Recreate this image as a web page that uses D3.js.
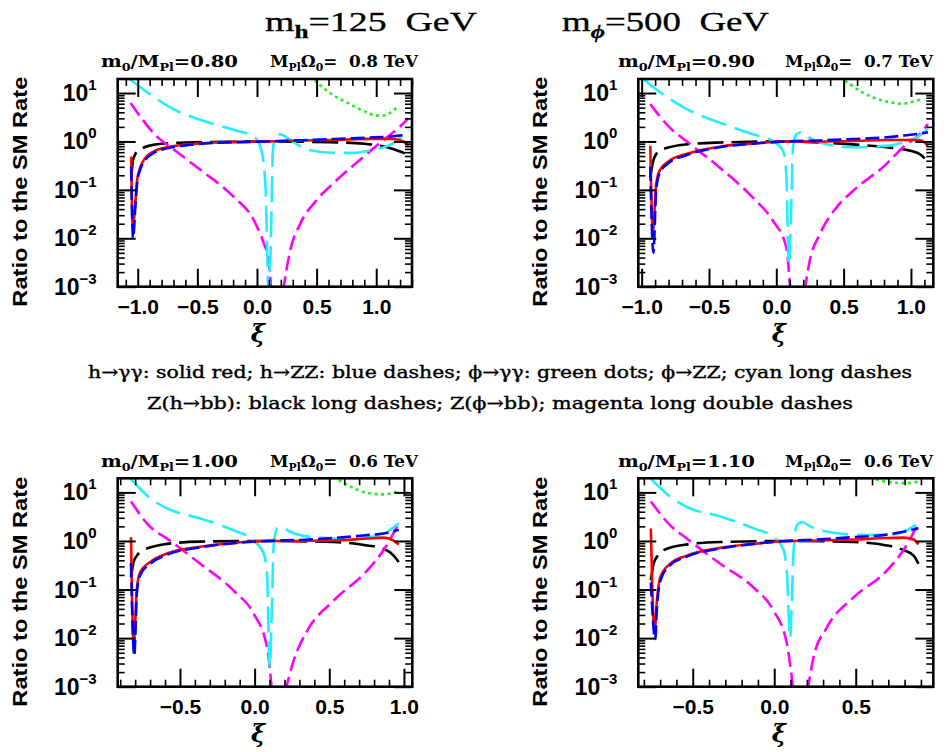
<!DOCTYPE html>
<html><head><meta charset="utf-8">
<script src="https://cdn.jsdelivr.net/npm/d3@7"></script>
<style>body{margin:0;background:#fff}svg{display:block}text{white-space:pre}</style>
</head><body>
<svg id="c" width="948" height="752"></svg>
<script>
// ---------------- data ----------------
const massRatio = ["0.80", "0.90", "1.00", "1.10"];
const scaleTeV = ["0.8", "0.7", "0.6", "0.6"];
const xMajorTicks = [[-1.0, -0.5, 0.0, 0.5, 1.0], [-1.0, -0.5, 0.0, 0.5, 1.0], [-0.5, 0.0, 0.5, 1.0], [-0.5, 0.0, 0.5]];
const yMajorTicks = [10, 1, 0.1, 0.01, 0.001];
const yTickExps = ["1", "0", "\u22121", "\u22122", "\u22123"];
const legendLines = [
  "h\u2192\u03b3\u03b3: solid red; h\u2192ZZ: blue dashes; \u03d5\u2192\u03b3\u03b3: green dots; \u03d5\u2192ZZ; cyan long dashes",
  "Z(h\u2192bb): black long dashes; Z(\u03d5\u2192bb); magenta long double dashes"
];

// panel 1 : m0/MPl = 0.80
const p1Red = [[-1.055,0.49],[-1.042,0.016],[-1.020,0.054],[-1.005,0.16],[-0.977,0.30],[-0.935,0.46],[-0.866,0.62],[-0.754,0.76],[-0.615,0.85],[-0.363,0.95],[0.084,1.0],[0.363,1.05],[0.642,1.07],[0.921,1.13],[1.144,1.12],[1.228,1.0],[1.27,0.8]];
const p1Blue = [[-1.055,0.3],[-1.039,0.01],[-1.020,0.045],[-1.005,0.14],[-0.977,0.27],[-0.935,0.42],[-0.866,0.58],[-0.754,0.72],[-0.615,0.82],[-0.363,0.93],[0.084,1.0],[0.363,1.06],[0.642,1.12],[0.921,1.2],[1.144,1.28],[1.24,1.36]];
const p1Black = [[-1.055,0.18],[-1.04,0.4],[-1.02,0.55],[-1.0,0.65],[-0.95,0.75],[-0.9,0.82],[-0.8,0.9],[-0.6,0.95],[-0.3,0.98],[0.0,1.0],[0.3,0.99],[0.6,0.97],[0.9,0.9],[1.0,0.84],[1.1,0.75],[1.2,0.62],[1.27,0.53]];
const p1Cyan = [[-1.067,19.5],[-0.894,9.3],[-0.698,4.6],[-0.475,2.8],[-0.196,1.74],[-0.028,1.26],[0.028,0.79],[0.070,0.14],[0.098,0.0008],[0.117,0.01],[0.134,0.68],[0.160,1.35],[0.193,1.4],[0.280,1.07],[0.420,0.68],[0.642,0.58],[0.810,0.58],[0.977,0.68],[1.144,0.93],[1.27,1.74]];
const p1Magenta = [[-1.06,6.2],[-0.838,1.26],[-0.698,0.68],[-0.475,0.26],[-0.196,0.072],[-0.028,0.024],[0.056,0.008],[0.098,0.0035],[0.12,0.0008],[0.17,null],[0.218,0.0008],[0.280,0.0058],[0.363,0.020],[0.502,0.062],[0.642,0.138],[0.865,0.42],[1.061,1.07],[1.2,2.04],[1.27,3.0]];
const p1Green = [[0.455,24],[0.474,20],[0.55,13.2],[0.614,10],[0.70,7.4],[0.781,5.9],[0.85,4.8],[0.92,4.0],[0.98,3.5],[1.05,3.4],[1.10,3.7],[1.17,4.9]];

// panel 2 : m0/MPl = 0.90
const p2Red = [[-0.936,0.81],[-0.917,0.014],[-0.892,0.13],[-0.867,0.25],[-0.793,0.40],[-0.669,0.55],[-0.421,0.78],[-0.174,0.91],[0.074,1.0],[0.322,1.0],[0.569,1.02],[0.817,1.07],[1.065,1.07],[1.126,0.81]];
const p2Blue = [[-0.936,0.3],[-0.913,0.005],[-0.892,0.1],[-0.867,0.22],[-0.793,0.37],[-0.669,0.52],[-0.421,0.76],[-0.174,0.9],[0.074,1.0],[0.322,1.05],[0.569,1.12],[0.817,1.22],[0.941,1.32],[1.065,1.45],[1.126,1.55]];
const p2Black = [[-0.936,0.18],[-0.917,0.37],[-0.892,0.55],[-0.842,0.69],[-0.669,0.87],[-0.421,0.95],[0.074,1.0],[0.569,0.87],[0.817,0.76],[0.941,0.69],[1.065,0.55],[1.126,0.37]];
const p2Cyan = [[-0.99,20],[-0.936,14.8],[-0.793,7.6],[-0.669,4.7],[-0.421,2.45],[-0.174,1.41],[-0.025,1.02],[0.049,0.65],[0.074,0.21],[0.094,0.0028],[0.111,0.043],[0.124,0.76],[0.149,1.41],[0.186,1.55],[0.247,1.2],[0.322,0.95],[0.569,0.76],[0.817,0.81],[0.941,0.95],[1.065,1.32],[1.126,1.82]];
const p2Magenta = [[-0.936,5.9],[-0.793,1.95],[-0.669,1.02],[-0.421,0.29],[-0.174,0.069],[-0.025,0.023],[0.074,0.0065],[0.104,0.0008],[0.16,null],[0.210,0.0008],[0.248,0.0034],[0.322,0.012],[0.446,0.043],[0.569,0.095],[0.817,0.34],[0.941,0.76],[1.065,1.41],[1.126,2.3]];
const p2Green = [[0.48,23],[0.495,20],[0.55,15.1],[0.6,12.0],[0.65,10],[0.72,8.1],[0.8,6.9],[0.88,6.2],[0.94,6.0],[1.0,6.5],[1.09,7.6]];

// panel 3 : m0/MPl = 1.00
const p3Red = [[-0.828,1.2],[-0.810,0.0076],[-0.788,0.11],[-0.766,0.23],[-0.699,0.37],[-0.587,0.55],[-0.364,0.76],[-0.141,0.91],[0.083,1.0],[0.306,1.0],[0.529,1.02],[0.753,1.12],[0.864,1.17],[0.931,1.02],[0.965,0.85]];
const p3Blue = [[-0.828,0.35],[-0.806,0.0043],[-0.788,0.09],[-0.766,0.2],[-0.699,0.34],[-0.587,0.52],[-0.364,0.74],[-0.141,0.9],[0.083,1.0],[0.306,1.05],[0.529,1.15],[0.753,1.32],[0.864,1.42],[0.965,1.7]];
const p3Black = [[-0.828,0.18],[-0.810,0.37],[-0.788,0.5],[-0.743,0.65],[-0.587,0.87],[-0.364,0.97],[0.083,1.0],[0.529,0.95],[0.753,0.81],[0.864,0.69],[0.931,0.5],[0.965,0.37]];
const p3Cyan = [[-0.83,19],[-0.699,7.6],[-0.587,4.7],[-0.364,2.9],[-0.141,1.66],[-0.007,1.02],[0.061,0.55],[0.083,0.21],[0.101,0.0025],[0.116,0.043],[0.127,0.76],[0.150,1.82],[0.172,1.95],[0.239,1.55],[0.306,1.32],[0.529,1.12],[0.641,1.07],[0.753,1.17],[0.864,1.41],[0.965,2.3]];
const p3Magenta = [[-0.828,6.5],[-0.699,1.95],[-0.587,1.12],[-0.364,0.34],[-0.141,0.095],[-0.007,0.032],[0.083,0.0065],[0.116,0.0008],[0.16,null],[0.205,0.0008],[0.261,0.0034],[0.351,0.014],[0.529,0.059],[0.753,0.245],[0.864,0.65],[0.965,2.3]];
const p3Green = [[0.535,23],[0.551,20],[0.641,13.2],[0.753,9.8],[0.864,9.1],[0.965,10.7]];

// panel 4 : m0/MPl = 1.10
const p4Red = [[-0.757,1.8],[-0.734,0.013],[-0.720,0.059],[-0.699,0.18],[-0.638,0.34],[-0.536,0.50],[-0.331,0.72],[-0.127,0.87],[0.078,1.0],[0.282,1.02],[0.487,1.07],[0.691,1.15],[0.793,1.17],[0.855,1.07],[0.885,0.85]];
const p4Blue = [[-0.757,0.14],[-0.730,0.0095],[-0.720,0.04],[-0.699,0.15],[-0.638,0.32],[-0.536,0.48],[-0.331,0.7],[-0.127,0.87],[0.078,1.0],[0.282,1.08],[0.487,1.2],[0.691,1.35],[0.793,1.55],[0.885,1.82]];
const p4Black = [[-0.757,0.155],[-0.740,0.34],[-0.720,0.47],[-0.679,0.65],[-0.536,0.85],[-0.331,0.95],[0.078,1.0],[0.487,0.95],[0.691,0.81],[0.793,0.65],[0.855,0.5],[0.885,0.34]];
const p4Cyan = [[-0.757,19],[-0.638,8.1],[-0.536,5.0],[-0.331,3.2],[-0.127,1.82],[-0.004,1.2],[0.057,0.65],[0.078,0.21],[0.098,0.01],[0.108,0.059],[0.118,0.55],[0.139,2.1],[0.170,2.45],[0.221,2.0],[0.282,1.66],[0.487,1.35],[0.691,1.32],[0.793,1.55],[0.885,2.3]];
const p4Magenta = [[-0.757,6.5],[-0.638,2.1],[-0.536,1.12],[-0.331,0.34],[-0.127,0.11],[-0.004,0.037],[0.078,0.0076],[0.118,0.0008],[0.16,null],[0.204,0.0008],[0.241,0.004],[0.323,0.0166],[0.487,0.069],[0.691,0.245],[0.793,0.65],[0.885,2.3]];
const p4Green = [[0.595,23],[0.609,20],[0.691,16.6],[0.793,15.5],[0.885,16.6]];

// ---------------- layout / style ----------------
const panels = [
  {black:p1Black, magenta:p1Magenta, cyan:p1Cyan, green:p1Green, red:p1Red, blue:p1Blue},
  {black:p2Black, magenta:p2Magenta, cyan:p2Cyan, green:p2Green, red:p2Red, blue:p2Blue},
  {black:p3Black, magenta:p3Magenta, cyan:p3Cyan, green:p3Green, red:p3Red, blue:p3Blue},
  {black:p4Black, magenta:p4Magenta, cyan:p4Cyan, green:p4Green, red:p4Red, blue:p4Blue}
];
const layout = [
  {x0:117.7, x1:412.0, y0:79, y1:286.7, dom:[-1.168, 1.30], hx:[101, 270], hy:66.7, lx:27, ly:191.7},
  {x0:638.3, x1:933.3, y0:79, y1:286.7, dom:[-1.025, 1.166], hx:[618, 785], hy:66.7, lx:547, ly:191.7},
  {x0:117.7, x1:412.3, y0:478.3, y1:686.7, dom:[-0.917, 1.056], hx:[101, 270], hy:466.7, lx:27, ly:591.7},
  {x0:638.3, x1:933.3, y0:478.3, y1:686.7, dom:[-0.834, 0.976], hx:[618, 785], hy:466.7, lx:547, ly:591.7}
];
const yTop = Math.pow(10, 1.29);
const styles = [
  {key:"black", color:"#000000", dash:"26,8"},
  {key:"magenta", color:"#ff00ff", dash:"15,6"},
  {key:"cyan", color:"#22eeff", dash:"26,9"},
  {key:"green", color:"#22ee22", dash:"3,3.5"},
  {key:"red", color:"#ff0000", dash:null},
  {key:"blue", color:"#0000ff", dash:"14,5"}
];
const sansB = "'Liberation Sans', Arial, sans-serif";
const serif = "'DejaVu Serif', serif";

const svg = d3.select("#c");
svg.append("rect").attr("width", 948).attr("height", 752).attr("fill", "#fff");

// title
const t1 = svg.append("text").attr("x", 265).attr("y", 31).attr("font-family", "'Liberation Serif', serif")
  .attr("font-size", 27).attr("textLength", 212).attr("lengthAdjust", "spacingAndGlyphs")
  .attr("stroke", "#000").attr("stroke-width", 0.3);
t1.append("tspan").text("m");
t1.append("tspan").attr("dy", 7).attr("font-size", 18).attr("font-weight", "bold").text("h");
t1.append("tspan").attr("dy", -7).text("=125  GeV");
const t2 = svg.append("text").attr("x", 562).attr("y", 31).attr("font-family", "'Liberation Serif', serif")
  .attr("font-size", 27).attr("textLength", 207).attr("lengthAdjust", "spacingAndGlyphs")
  .attr("stroke", "#000").attr("stroke-width", 0.3);
t2.append("tspan").text("m");
t2.append("tspan").attr("dy", 7).attr("font-size", 18).attr("font-weight", "bold").attr("font-style", "italic").text("\u03d5");
t2.append("tspan").attr("dy", -7).text("=500  GeV");

// legend text
svg.append("text").attr("x", 88).attr("y", 378).attr("font-family", serif).attr("font-size", 17)
  .attr("stroke", "#000").attr("stroke-width", 0.4)
  .attr("textLength", 824).attr("lengthAdjust", "spacingAndGlyphs").text(legendLines[0]);
svg.append("text").attr("x", 147).attr("y", 409).attr("font-family", serif).attr("font-size", 17)
  .attr("stroke", "#000").attr("stroke-width", 0.4)
  .attr("textLength", 706).attr("lengthAdjust", "spacingAndGlyphs").text(legendLines[1]);

const fmt = d3.format(".1f");

panels.forEach((P, i) => {
  const L = layout[i];
  const g = svg.append("g");
  const x = d3.scaleLinear().domain(L.dom).range([L.x0, L.x1]);
  const y = d3.scaleLog().domain([0.001, yTop]).range([L.y1, L.y0]);

  const cid = "clip" + i;
  svg.append("clipPath").attr("id", cid).append("rect")
    .attr("x", L.x0).attr("y", L.y0).attr("width", L.x1 - L.x0).attr("height", L.y1 - L.y0);

  const line = d3.line().defined(d => d[1] !== null)
    .x(d => x(d[0])).y(d => y(d[1])).curve(d3.curveMonotoneX);
  const cg = g.append("g").attr("clip-path", `url(#${cid})`);
  styles.forEach(s => {
    cg.append("path").datum(P[s.key]).attr("d", line).attr("fill", "none")
      .attr("stroke", s.color).attr("stroke-width", 2.6)
      .attr("stroke-dasharray", s.dash).attr("stroke-linejoin", "round");
  });

  // ticks
  const majX = xMajorTicks[i];
  const minX = d3.range(Math.ceil(L.dom[0] * 10 - 1e-9), Math.floor(L.dom[1] * 10 + 1e-9) + 1)
    .map(k => k / 10).filter(v => !majX.some(m => Math.abs(m - v) < 1e-9));
  const minY = [];
  [-3, -2, -1, 0, 1].forEach(e => { for (let k = 2; k <= 9; k++) { const v = k * Math.pow(10, e); if (v < yTop) minY.push(v); } });

  const ax = [
    [d3.axisBottom, `translate(0,${L.y1})`, x, majX, minX],
    [d3.axisTop, `translate(0,${L.y0})`, x, majX, minX],
    [d3.axisLeft, `translate(${L.x0},0)`, y, yMajorTicks, minY],
    [d3.axisRight, `translate(${L.x1},0)`, y, yMajorTicks, minY]
  ];
  ax.forEach(([fn, tr, sc, maj, mn]) => {
    g.append("g").attr("transform", tr).call(fn(sc).tickValues(maj).tickSize(-18).tickFormat(""))
      .call(a => a.select(".domain").remove()).selectAll("line").attr("stroke-width", 2);
    g.append("g").attr("transform", tr).call(fn(sc).tickValues(mn).tickSize(-7).tickFormat(""))
      .call(a => a.select(".domain").remove()).selectAll("line").attr("stroke-width", 1.6);
  });

  // frame
  g.append("rect").attr("x", L.x0).attr("y", L.y0).attr("width", L.x1 - L.x0).attr("height", L.y1 - L.y0)
    .attr("fill", "none").attr("stroke", "#000").attr("stroke-width", 2.6);

  // x tick labels
  g.append("g").attr("transform", `translate(0,${L.y1})`)
    .call(d3.axisBottom(x).tickValues(majX).tickSize(0).tickPadding(12).tickFormat(fmt))
    .call(a => a.select(".domain").remove())
    .selectAll("text").attr("font-family", sansB).attr("font-weight", "bold").attr("font-size", 21).attr("fill", "#000");

  // y tick labels
  yMajorTicks.forEach((v, j) => {
    const t = g.append("text").attr("x", L.x0 - 21).attr("y", y(v) + 8).attr("text-anchor", "end")
      .attr("font-family", sansB).attr("font-weight", "bold").attr("font-size", 23);
    t.append("tspan").text("10");
    t.append("tspan").attr("dy", -11).attr("font-size", 15).text(yTickExps[j]);
  });

  // y axis title
  g.append("text").attr("transform", `translate(${L.lx},${L.ly}) rotate(-90)`).attr("text-anchor", "middle")
    .attr("font-family", sansB).attr("font-weight", "bold").attr("font-size", 20)
    .attr("textLength", 230).attr("lengthAdjust", "spacingAndGlyphs").text("Ratio to the SM Rate");

  // x axis title
  g.append("text").attr("x", (L.x0 + L.x1) / 2 - 7).attr("y", L.y1 + 55).attr("text-anchor", "middle")
    .attr("font-family", serif).attr("font-weight", "bold").attr("font-style", "italic").attr("font-size", 24).text("\u03be");

  // header
  const h1 = g.append("text").attr("x", L.hx[0]).attr("y", L.hy).attr("font-family", serif).attr("font-weight", "bold")
    .attr("font-size", 17).attr("textLength", 137).attr("lengthAdjust", "spacingAndGlyphs");
  h1.append("tspan").text("m");
  h1.append("tspan").attr("dy", 4).attr("font-size", 11).text("0");
  h1.append("tspan").attr("dy", -4).text("/M");
  h1.append("tspan").attr("dy", 4).attr("font-size", 11).text("Pl");
  h1.append("tspan").attr("dy", -4).text("=" + massRatio[i]);
  const h2 = g.append("text").attr("x", L.hx[1]).attr("y", L.hy).attr("font-family", serif).attr("font-weight", "bold")
    .attr("font-size", 17).attr("textLength", 148).attr("lengthAdjust", "spacingAndGlyphs");
  h2.append("tspan").text("M");
  h2.append("tspan").attr("dy", 4).attr("font-size", 11).text("Pl");
  h2.append("tspan").attr("dy", -4).text("\u03a9");
  h2.append("tspan").attr("dy", 4).attr("font-size", 11).text("0");
  h2.append("tspan").attr("dy", -4).text("=  " + scaleTeV[i] + " TeV");
});
</script>
</body></html>
